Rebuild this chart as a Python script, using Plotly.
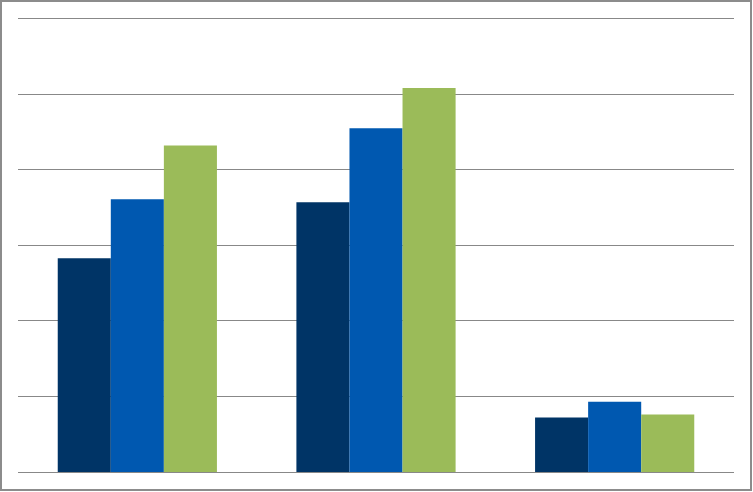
import plotly.graph_objects as go

# three groups, three series, no labels on the original
categories = ["A", "B", "C"]
series_1 = [28.3, 35.7, 7.2]
series_2 = [36.1, 45.5, 9.3]
series_3 = [43.2, 50.8, 7.6]
colours = ["#003466", "#0058B0", "#9BBB59"]

W, H = 753, 492
# top margin leaves room for one extra unit so the 60 gridline is drawn
L, R, T, B = 18, 19, 11, 20
pw, ph = W - L - R, H - T - B

fig = go.Figure()
for vals, col in zip([series_1, series_2, series_3], colours):
    fig.add_trace(go.Bar(x=categories, y=vals, marker=dict(color=col, line_width=0)))

# outer frame around the whole picture
fig.add_shape(
    type="rect", xref="paper", yref="paper",
    x0=(1 - L) / pw, x1=(W - 2 - L) / pw,
    y0=(H - B - (H - 2)) / ph, y1=(H - B - 1) / ph,
    line=dict(color="#8C8C8C", width=2), fillcolor="rgba(0,0,0,0)", layer="above",
)

fig.update_layout(
    width=W, height=H,
    barmode="group", bargap=0.333, bargroupgap=0,
    showlegend=False,
    plot_bgcolor="white", paper_bgcolor="white",
    margin=dict(l=L, r=R, t=T, b=B, pad=0),
)
fig.update_xaxes(showticklabels=False, showgrid=False, ticks="", showline=False)
fig.update_yaxes(
    range=[0, 61], tick0=0, dtick=10, showticklabels=False, ticks="",
    showgrid=True, gridcolor="#888888", gridwidth=1,
    zeroline=True, zerolinecolor="#888888", zerolinewidth=1,
)

# drop the default 8px body margin so the figure sits at the page corner
fig.write_html(
    "out.html",
    config={"displayModeBar": False},
    post_script="document.body.style.margin='0';document.body.style.overflow='hidden';",
)
